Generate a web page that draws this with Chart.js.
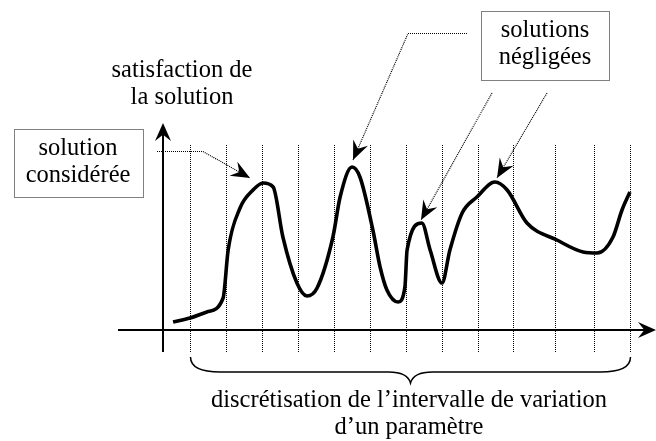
<!DOCTYPE html>
<html lang="fr">
<head>
  <meta charset="UTF-8">
  <title>Discrétisation</title>
  <script src="https://cdn.jsdelivr.net/npm/chart.js@4"></script>
  <style>
    body {
      margin: 0;
      padding: 0;
      background-color: #ffffff;
    }
    #wrap {
      width: 656px;
      height: 441px;
    }
  </style>
</head>
<body>

  <div id="wrap">
    <canvas id="chart" width="656" height="441"></canvas>
  </div>

  <script>
    // positions de la discrétisation (lignes pointillées verticales)
    const gridX = [0.764, 1.764, 2.764, 3.764, 4.764, 5.764, 6.764, 7.764, 8.764, 9.736, 10.903, 11.986, 12.986];
    const gridTop = 9.25;
    const gridBottom = -1.1;

    // courbe de satisfaction
    const curveX = [0.28, 0.75, 1.22, 1.67, 1.81, 2.14, 2.5, 2.78, 3.06, 3.33, 3.72, 4.0, 4.28, 4.72, 4.92, 5.25, 5.47, 5.83, 6.03, 6.22, 6.53, 6.72, 6.78, 7.19, 7.42, 7.75, 7.97, 8.31, 8.72, 9.22, 9.56, 10.11, 10.94, 11.67, 12.06, 12.5, 12.75, 12.97];
    const curveY = [0.4, 0.6, 0.9, 1.6, 4.0, 6.1, 7.0, 7.35, 7.15, 4.65, 2.35, 1.7, 2.1, 4.65, 6.65, 8.15, 7.65, 5.0, 3.15, 2.0, 1.4, 2.15, 4.0, 5.35, 4.0, 2.35, 4.0, 5.85, 6.65, 7.4, 7.0, 5.35, 4.5, 3.9, 3.85, 4.65, 6.0, 6.9];

    const yTitle = ['satisfaction de', 'la solution'];
    const xTitle = ['discrétisation de l’intervalle de variation', 'd’un paramètre'];
    const boxLeft = ['solution', 'considérée'];
    const boxRight = ['solutions', 'négligées'];

    const FONT = '24.5px "Liberation Serif", "Times New Roman", serif';

    const datasets = [{
      data: curveX.map((x, i) => ({ x: x, y: curveY[i] })),
      borderColor: '#000000',
      borderWidth: 3.6,
      pointRadius: 0,
      cubicInterpolationMode: 'monotone',
      fill: false
    }];
    gridX.forEach(g => {
      datasets.push({
        data: [{ x: g, y: gridBottom }, { x: g, y: gridTop }],
        borderColor: '#000000',
        borderWidth: 1,
        borderDash: [1, 1],
        pointRadius: 0,
        fill: false
      });
    });

    // tête de flèche barbelée
    function arrowHead(ctx, fx, fy, tx, ty, len, half) {
      const a = Math.atan2(ty - fy, tx - fx);
      const c = Math.cos(a), s = Math.sin(a);
      const bx = tx - c * len, by = ty - s * len;
      const nx = tx - c * len * 0.65, ny = ty - s * len * 0.65;
      ctx.beginPath();
      ctx.moveTo(tx, ty);
      ctx.lineTo(bx - s * half, by + c * half);
      ctx.lineTo(nx, ny);
      ctx.lineTo(bx + s * half, by - c * half);
      ctx.closePath();
      ctx.fill();
    }

    function dottedPath(ctx, pts) {
      ctx.save();
      ctx.lineWidth = 1.2;
      ctx.setLineDash([1, 1]);
      ctx.beginPath();
      ctx.moveTo(pts[0][0], pts[0][1]);
      for (let i = 1; i < pts.length; i++) ctx.lineTo(pts[i][0], pts[i][1]);
      ctx.stroke();
      ctx.restore();
      const n = pts.length;
      arrowHead(ctx, pts[n - 2][0], pts[n - 2][1], pts[n - 1][0], pts[n - 1][1], 19, 8);
    }

    function textLines(ctx, lines, cx, y0, step) {
      lines.forEach((t, i) => ctx.fillText(t, cx, y0 + i * step));
    }

    const decor = {
      id: 'decor',
      afterDatasetsDraw(chart) {
        const ctx = chart.ctx;
        const xs = chart.scales.x, ys = chart.scales.y;
        const x0 = xs.getPixelForValue(0), y0 = ys.getPixelForValue(0);
        ctx.save();
        ctx.fillStyle = '#000000';
        ctx.strokeStyle = '#000000';

        // axes
        ctx.lineWidth = 2;
        ctx.beginPath();
        ctx.moveTo(x0, ys.getPixelForValue(gridBottom));
        ctx.lineTo(x0, 130);
        ctx.moveTo(xs.left, y0);
        ctx.lineTo(xs.right - 8, y0);
        ctx.stroke();
        arrowHead(ctx, x0, 200, x0, 123, 18, 8);
        arrowHead(ctx, xs.left, y0, xs.right, y0, 18, 8);

        // accolade
        const xl = xs.getPixelForValue(gridX[0]);
        const xr = xs.getPixelForValue(gridX[gridX.length - 1]);
        const mid = (xl + xr) / 2;
        ctx.lineWidth = 1.5;
        ctx.beginPath();
        ctx.moveTo(xl, 357);
        ctx.quadraticCurveTo(xl, 372, xl + 30, 372);
        ctx.lineTo(mid - 22, 372);
        ctx.quadraticCurveTo(mid - 3, 372, mid, 383);
        ctx.quadraticCurveTo(mid + 3, 372, mid + 22, 372);
        ctx.lineTo(xr - 30, 372);
        ctx.quadraticCurveTo(xr, 372, xr, 357);
        ctx.stroke();

        // boîtes pointillées
        ctx.lineWidth = 1;
        ctx.setLineDash([1, 1]);
        ctx.strokeRect(14.5, 129.5, 129, 68);
        ctx.strokeRect(481.5, 11.5, 128, 69);
        ctx.setLineDash([]);

        // flèches d'annotation
        dottedPath(ctx, [[157, 151.5], [203, 151.5], [250, 178]]);
        dottedPath(ctx, [[467, 33.5], [408, 33.5], [353, 160]]);
        dottedPath(ctx, [[492, 93], [421, 220]]);
        dottedPath(ctx, [[547, 93], [497, 178]]);

        // textes
        ctx.font = FONT;
        ctx.textAlign = 'center';
        ctx.textBaseline = 'alphabetic';
        textLines(ctx, yTitle, 182, 77, 27);
        textLines(ctx, boxLeft, 78, 155, 27);
        textLines(ctx, boxRight, 545, 37, 27);
        textLines(ctx, xTitle, 409, 407, 27);
        ctx.restore();
      }
    };

    new Chart(document.getElementById('chart').getContext('2d'), {
      type: 'line',
      data: { datasets: datasets },
      options: {
        responsive: false,
        animation: false,
        layout: { padding: { left: 118, right: 0, top: 100, bottom: 89 } },
        plugins: {
          legend: { display: false },
          tooltip: { enabled: false }
        },
        scales: {
          x: { type: 'linear', min: -1.25, max: 13.6944, display: false },
          y: { type: 'linear', min: -1.1, max: 11.5, display: false }
        }
      },
      plugins: [decor]
    });
  </script>

</body>
</html>
